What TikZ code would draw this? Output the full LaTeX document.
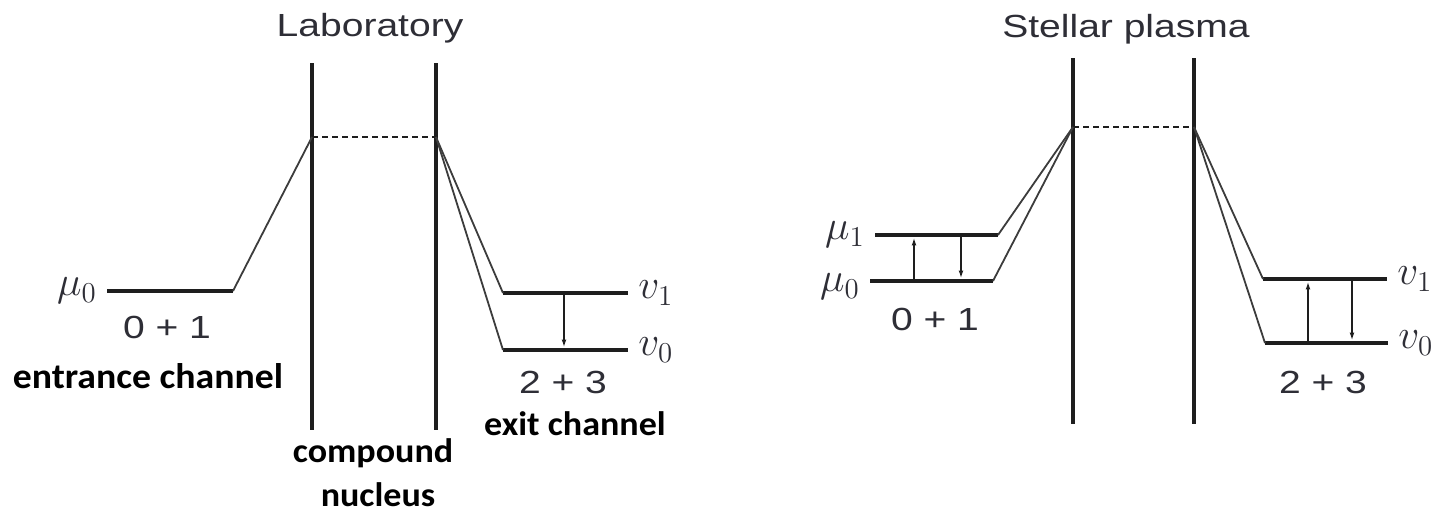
\documentclass[tikz,border=0pt]{standalone}
\usepackage{fontspec}
\newfontfamily\figfont[FakeStretch=1.22]{Liberation Sans}
\newfontfamily\capfont[FakeStretch=1.06]{Carlito}
\usetikzlibrary{arrows.meta, positioning}
\definecolor{lineDark}{HTML}{1E1E1E}
\definecolor{slopeGrey}{HTML}{3C3C3C}
\definecolor{textDark}{HTML}{2E2E36}

\begin{document}
\begin{tikzpicture}[
          x=0.5pt, y=-0.5pt,
          node distance=5pt,
          wall/.style={draw=lineDark, line width=2.2pt},
          lvl/.style={draw=lineDark, line width=2.4pt},
          slope/.style={draw=slopeGrey, line width=0.9pt},
          gap/.style={draw=lineDark, line width=1.4pt, dash pattern=on 3.2pt off 1.8pt},
          arr/.style={-{Latex[length=4pt, width=2.4pt]}, draw=lineDark, line width=0.8pt, shorten >=1.2pt, shorten <=1.2pt},
          heading/.style={font=\fontsize{16}{19}\figfont, text=textDark, inner sep=0pt, anchor=base},
          sum/.style={font=\fontsize{16}{19}\figfont, text=textDark, inner sep=0pt, anchor=base},
          sym/.style={font=\fontsize{19.5}{22}\selectfont, text=textDark, inner sep=0pt},
          capt/.style={font=\fontsize{17}{20}\capfont\bfseries, text=black, inner sep=0pt, anchor=base}
        ]
        \useasboundingbox (0,0) rectangle (1446,515);

        % Laboratory
        \node[heading] (lab) at (370,36) {Laboratory};
        \draw[wall] (312,63) -- (312,430);
        \draw[wall] (436,63) -- (436,430);
        \coordinate (cnL) at (312,137);
        \coordinate (cnR) at (436,137);
        \draw[gap] (cnL) -- (cnR);

        \coordinate (a0w) at (107,291);
        \coordinate (a0e) at (233,291);
        \draw[lvl] (a0w) -- (a0e);
        \draw[slope] (a0e) -- (cnL);
        \node[sym, left=of a0w] (a0lab) {$\mu_0$};
        \node[sum] (a01) at (167,338) {0 + 1};
        \node[capt] (entr) at (148,388) {\fontsize{17.8}{20}\selectfont entrance channel};

        \coordinate (b1w) at (503,293);
        \coordinate (b1e) at (628,293);
        \coordinate (b0w) at (503,350);
        \coordinate (b0e) at (628,350);
        \draw[lvl] (b1w) -- (b1e);
        \draw[lvl] (b0w) -- (b0e);
        \draw[slope] (cnR) -- (b1w);
        \draw[slope] (cnR) -- (b0w);
        \node[sym, right=of b1e] (b1lab) {$v_1$};
        \node[sym, right=of b0e] (b0lab) {$v_0$};
        \coordinate (b1x) at (564,293);
        \draw[arr] (b1x) -- (b1x |- b0w);
        \node[sum] (b23) at (563,393) {2 + 3};
        \node[capt] (exit) at (575,435) {exit channel};
        \node[capt] (cmp) at (373,462) {compound};
        \node[capt] (nuc) at (378,506) {nucleus};

        % Stellar plasma
        \node[heading] (stl) at (1126,37) {Stellar plasma};
        \draw[wall] (1073,58) -- (1073,424);
        \draw[wall] (1194,58) -- (1194,424);
        \coordinate (snL) at (1073,127);
        \coordinate (snR) at (1194,127);
        \draw[gap] (snL) -- (snR);

        \coordinate (c1w) at (875,235);
        \coordinate (c1e) at (998,235);
        \coordinate (c0w) at (870,281);
        \coordinate (c0e) at (993,281);
        \draw[lvl] (c1w) -- (c1e);
        \draw[lvl] (c0w) -- (c0e);
        \draw[slope] (c1e) -- (snL);
        \draw[slope] (c0e) -- (snL);
        \node[sym, left=of c1w] (c1lab) {$\mu_1$};
        \node[sym, left=of c0w, yshift=-3pt] (c0lab) {$\mu_0$};
        \coordinate (c0x) at (914,281);
        \coordinate (c1x) at (961,235);
        \draw[arr] (c0x) -- (c0x |- c1w);
        \draw[arr] (c1x) -- (c1x |- c0w);
        \node[sum] (c01) at (935,330) {0 + 1};

        \coordinate (d1w) at (1263,279);
        \coordinate (d1e) at (1387,279);
        \coordinate (d0w) at (1265,343);
        \coordinate (d0e) at (1388,343);
        \draw[lvl] (d1w) -- (d1e);
        \draw[lvl] (d0w) -- (d0e);
        \draw[slope] (snR) -- (d1w);
        \draw[slope] (snR) -- (d0w);
        \node[sym, right=of d1e] (d1lab) {$v_1$};
        \node[sym, right=of d0e] (d0lab) {$v_0$};
        \coordinate (d0x) at (1308,343);
        \coordinate (d1x) at (1352,279);
        \draw[arr] (d0x) -- (d0x |- d1w);
        \draw[arr] (d1x) -- (d1x |- d0w);
        \node[sum] (d23) at (1323,393) {2 + 3};
      \end{tikzpicture}
\end{document}
